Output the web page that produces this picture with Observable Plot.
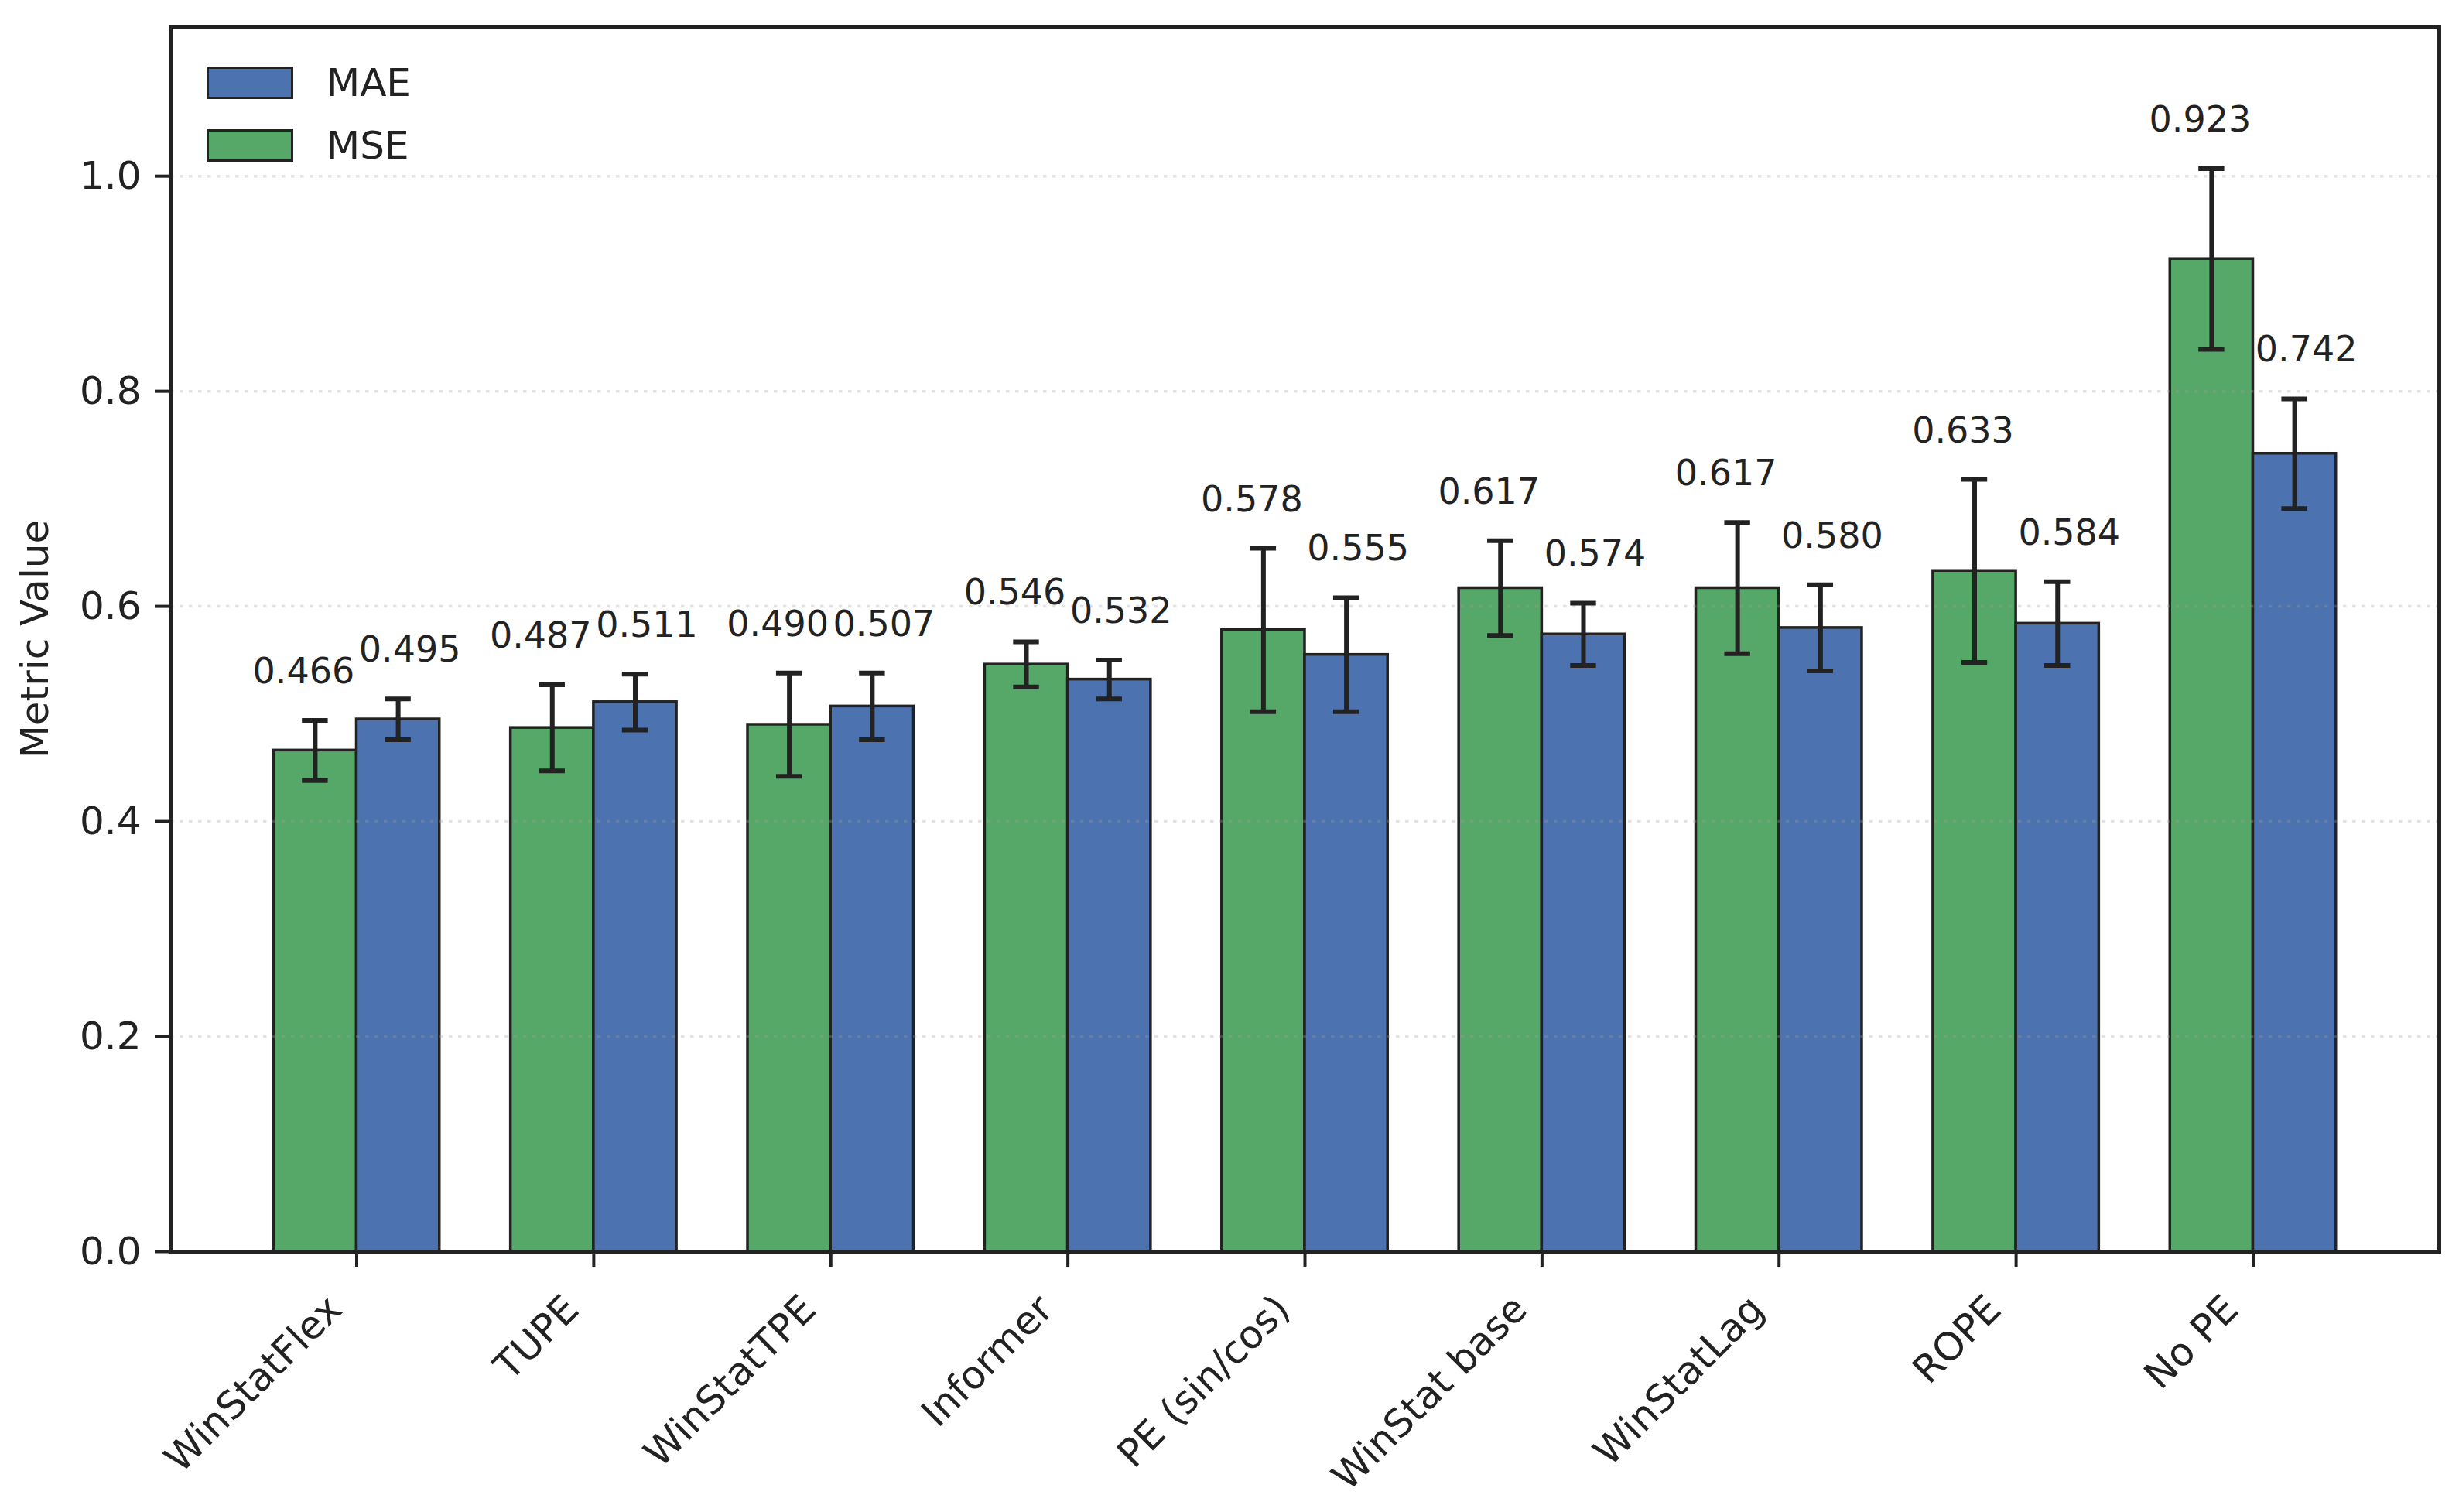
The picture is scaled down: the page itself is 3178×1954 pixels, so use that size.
<!DOCTYPE html>
<html><head><meta charset="utf-8">
<script src="https://cdn.jsdelivr.net/npm/d3@7"></script>
<script src="https://cdn.jsdelivr.net/npm/@observablehq/plot@0.6"></script>
<style>
html,body{margin:0;padding:0;background:#fff;}
#wrap{position:relative;width:3178px;height:1954px;font-family:"DejaVu Sans",sans-serif;color:#222;}
#wrap svg{display:block;}
#legend{position:absolute;left:267px;top:86px;}
.item{display:flex;align-items:center;height:42px;margin-bottom:39px;}
.sw{width:112px;height:42px;box-sizing:border-box;border:3.5px solid #222;}
.lab{margin-left:43px;font-size:50px;line-height:42px;}
</style></head><body>
<div id="wrap"><div id="legend"></div></div>
<script>
const categories = ["WinStatFlex","TUPE","WinStatTPE","Informer","PE (sin/cos)","WinStat base","WinStatLag","ROPE","No PE"];
const mseValues = [0.466,0.487,0.490,0.546,0.578,0.617,0.617,0.633,0.923];
const maeValues = [0.495,0.511,0.507,0.532,0.555,0.574,0.580,0.584,0.742];
const mseStd = [0.028,0.040,0.048,0.021,0.076,0.044,0.061,0.085,0.084];
const maeStd = [0.019,0.026,0.031,0.018,0.053,0.029,0.040,0.039,0.051];
const yTicks = [0,0.2,0.4,0.6,0.8,1.0];
const metrics = ["MSE","MAE"];
const metricColors = ["#55A868","#4C72B0"];
const legendOrder = ["MAE","MSE"];

const ink = "#222222";
const barW = 0.35;
const capHalf = 0.0545;
const rows = [];
categories.forEach((c,i)=>{
  rows.push({cat:c,i,metric:"MSE",value:mseValues[i],std:mseStd[i],x1:i-barW,x2:i,xc:i-barW/2});
  rows.push({cat:c,i,metric:"MAE",value:maeValues[i],std:maeStd[i],x1:i,x2:i+barW,xc:i+barW/2});
});
const idx = categories.map((c,i)=>i);

const chart = Plot.plot({
  width:3178,height:1954,marginLeft:220,marginRight:26,marginTop:34,marginBottom:337,
  style:{fontFamily:"DejaVu Sans", fontSize:"50px", color:ink, background:"white"},
  x:{type:"linear",domain:[-0.785,8.785]},
  y:{domain:[0,1.139]},
  color:{domain:metrics,range:metricColors},
  marks:[
    Plot.rect(rows,{x1:"x1",x2:"x2",y1:0,y2:"value",fill:"metric",stroke:ink,strokeWidth:3.5,inset:0}),
    Plot.gridY(yTicks.filter(t=>t>0),{stroke:"#a0a0a0",strokeOpacity:0.3,strokeWidth:3.5,strokeDasharray:"4.5,7.5"}),
    Plot.ruleX(rows,{x:"xc",y1:d=>d.value-d.std,y2:d=>d.value+d.std,stroke:ink,strokeWidth:6}),
    Plot.ruleY(rows,{y:d=>d.value+d.std,x1:d=>d.xc-capHalf,x2:d=>d.xc+capHalf,stroke:ink,strokeWidth:6}),
    Plot.ruleY(rows,{y:d=>d.value-d.std,x1:d=>d.xc-capHalf,x2:d=>d.xc+capHalf,stroke:ink,strokeWidth:6}),
    Plot.text(rows.filter(d=>d.metric==="MSE"),{x:"xc",y:d=>d.value+d.std,text:d=>d.value.toFixed(3),lineAnchor:"bottom",dy:-48,dx:-15,fontSize:46,fill:ink}),
    Plot.text(rows.filter(d=>d.metric==="MAE"),{x:"xc",y:d=>d.value+d.std,text:d=>d.value.toFixed(3),lineAnchor:"bottom",dy:-48,dx:15,fontSize:46,fill:ink}),
    Plot.axisY(yTicks,{tickFormat:d=>d.toFixed(1),tickSize:20,tickPadding:18,strokeWidth:4,label:null,fontSize:50}),
    Plot.axisX(idx,{tickFormat:()=>"",tickSize:20,strokeWidth:4,label:null}),
    Plot.text(categories,{x:(d,i)=>i,frameAnchor:"bottom",text:d=>d,rotate:-45,textAnchor:"end",lineAnchor:"middle",dx:-28,dy:66,fontSize:50,fill:ink}),
    Plot.text(["Metric Value"],{frameAnchor:"left",text:d=>d,rotate:-90,textAnchor:"middle",dx:-159,lineAnchor:"bottom",fontSize:50,fill:ink}),
    Plot.frame({stroke:ink,strokeWidth:5})
  ]
});
const wrap = document.getElementById("wrap");
wrap.insertBefore(chart, wrap.firstChild);

const legend = document.getElementById("legend");
legendOrder.forEach(m=>{
  const item = document.createElement("div");
  item.className = "item";
  const sw = document.createElement("div");
  sw.className = "sw";
  sw.style.background = metricColors[metrics.indexOf(m)];
  const lab = document.createElement("div");
  lab.className = "lab";
  lab.textContent = m;
  item.appendChild(sw); item.appendChild(lab);
  legend.appendChild(item);
});
</script>
</body></html>
